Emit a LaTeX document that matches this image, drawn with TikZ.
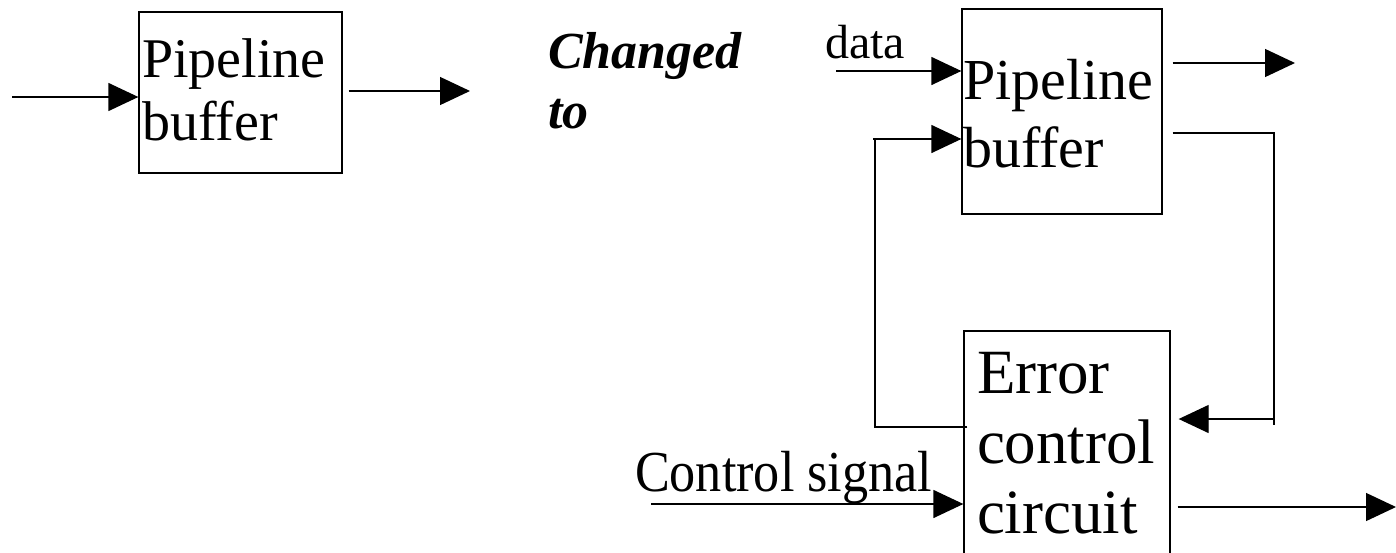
\documentclass[tikz,border=0pt]{standalone}
\usepackage{fontspec}
\setmainfont{Liberation Serif}
\usetikzlibrary{arrows.meta}
\tikzset{
  boxnode/.style={draw, line width=1.3pt, inner sep=0pt, rectangle},
  conn/.style={line width=1.3pt},
  arr/.style={line width=1.3pt, -{Triangle[length=30pt,width=28pt]}},
  lbl/.style={anchor=base west, inner sep=0pt, outer sep=0pt},
  big/.style={font=\fontsize{56}{56}\selectfont},
}
\begin{document}
\begin{tikzpicture}[x=1pt,y=-1pt]
\fill[white] (0,0) rectangle (1396,552);
\useasboundingbox (0,0) rectangle (1396,552);
\clip (0,0) rectangle (1396,552);
% left box
\node[boxnode, minimum width=203pt, minimum height=161pt] (b1) at (240.5,92.5) {};
\node[lbl, big] (t1a) at (142,77) {Pipeline};
\node[lbl, big] (t1b) at (142,140) {buffer};
\coordinate (in1) at (12,97);
\coordinate (out1) at (470,91);
\draw[arr] (in1) -- (in1 -| b1.west);
\draw[arr] ([xshift=6pt]b1.east |- out1) -- (out1);
% changed to
\node[lbl, font=\fontsize{52}{52}\selectfont\bfseries\itshape] (ch1) at (548,68) {Changed};
\node[lbl, font=\fontsize{52}{52}\selectfont\bfseries\itshape] (ch2) at (548,128) {to};
% right top box
\node[boxnode, minimum width=200pt, minimum height=205pt] (b2) at (1062,111.5) {};
\node[lbl, font=\fontsize{58}{58}\selectfont] (t2a) at (963,99) {Pipeline};
\node[lbl, font=\fontsize{58}{58}\selectfont] (t2b) at (963,167) {buffer};
\node[lbl, font=\fontsize{48}{48}\selectfont] (data) at (825,58) {data};
\coordinate (din) at (836,71);
\draw[arr] (din) -- (din -| b2.west);
\coordinate (o2) at (1295,63);
\draw[arr] ([xshift=10pt]b2.east |- o2) -- (o2);
% error control box
\node[boxnode, minimum width=206pt, minimum height=280pt] (b3) at (1067,471) {};
\node[lbl, font=\fontsize{63}{63}\selectfont] (e1) at (977,393) {Error};
\node[lbl, font=\fontsize{63}{63}\selectfont] (e2) at (977,463) {control};
\node[lbl, font=\fontsize{63}{63}\selectfont] (e3) at (977,533) {circuit};
% feedback left
\coordinate (fl1) at (875,139);
\coordinate (fl2) at (875,427);
\draw[conn] ([xshift=4pt]b3.west |- fl2) -- (fl2) -- (fl1) -- ++(-2,0);
\draw[arr] ([xshift=-2pt]fl1) -- (fl1 -| b2.west);
% feedback right
\coordinate (fr1) at (1274,133);
\coordinate (fr2) at (1274,425);
\coordinate (fr3) at (1274,419);
\draw[conn] ([xshift=10pt]b2.east |- fr1) -- (fr1) -- (fr2);
\draw[arr] (fr3) -- ([xshift=8pt]b3.east |- fr3);
% control signal
\node[lbl, font=\fontsize{58}{58}\selectfont, xscale=0.9] (cs) at (635,491) {Control signal};
\coordinate (csin) at (651,504);
\draw[arr] (csin) -- (csin -| b3.west);
% output of error box
\coordinate (o3) at (1396,507);
\draw[arr] ([xshift=7pt]b3.east |- o3) -- (o3);
\end{tikzpicture}
\end{document}
